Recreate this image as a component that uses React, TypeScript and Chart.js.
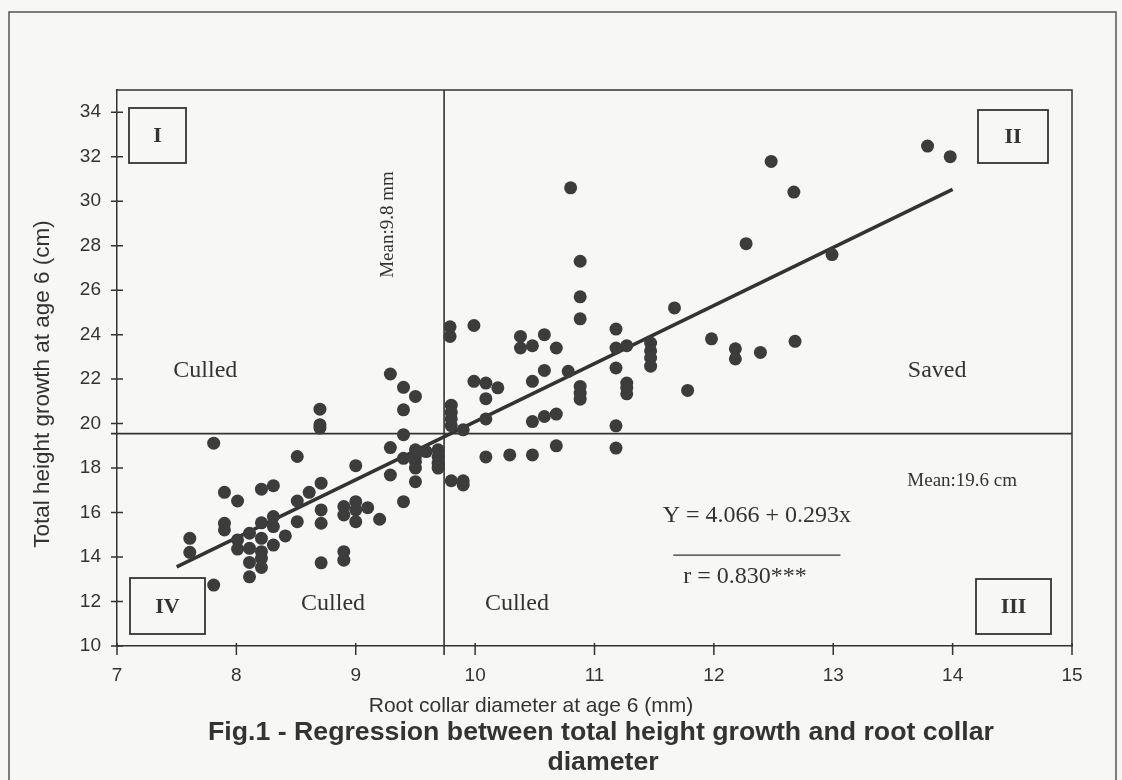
import React, { useEffect, useRef } from "react";
import { Chart, registerables } from "chart.js";

Chart.register(...registerables);

// ---- data ----
// Quadrant IV / lower-left cluster
const diameterA = [8.7, 8.7, 8.7, 7.81, 8.51, 7.9, 8.01, 8.21, 8.31, 8.61, 8.71, 8.51, 8.71, 8.71, 7.9, 7.9, 8.21, 8.31, 8.31, 8.51, 8.41, 8.11, 8.21, 8.01, 8.01, 7.61, 7.61, 8.11, 8.21, 8.31, 8.21, 8.11, 8.21, 8.11, 8.71, 7.81, 8.9, 8.9, 8.9, 8.9];
const heightA = [20.65, 19.95, 19.8, 19.12, 18.52, 16.91, 16.52, 17.05, 17.21, 16.91, 17.32, 16.52, 16.12, 15.52, 15.52, 15.22, 15.54, 15.82, 15.37, 15.59, 14.95, 15.07, 14.84, 14.77, 14.36, 14.84, 14.21, 14.39, 14.24, 14.54, 13.94, 13.76, 13.53, 13.11, 13.74, 12.74, 14.24, 13.86, 16.27, 15.89];
// Cluster just left of the diameter mean
const diameterB = [9.29, 9.4, 9.5, 9.4, 9.4, 9.29, 9.4, 9.5, 9.5, 9.5, 9.5, 9.59, 9.69, 9.69, 9.69, 9.69, 9.5, 9.29, 9.0, 9.4, 9.0, 9.0, 9.0, 9.1, 9.2];
const heightB = [22.23, 21.63, 21.22, 20.62, 19.5, 18.92, 18.44, 18.82, 18.52, 18.29, 18.0, 18.74, 18.82, 18.52, 18.22, 18.0, 17.39, 17.69, 18.11, 16.49, 16.49, 16.12, 15.59, 16.22, 15.7];
// Cluster just right of the diameter mean
const diameterC = [9.8, 9.8, 9.8, 9.8, 9.9, 9.8, 9.9, 9.9, 9.99, 10.09, 10.19, 10.09, 10.09, 10.09, 10.29, 9.79, 9.79, 9.99, 10.38, 10.38, 10.48, 10.58, 10.68, 10.58, 10.48, 10.78, 10.48, 10.58, 10.68, 10.68, 10.48, 10.8];
const heightC = [20.83, 20.51, 20.21, 19.91, 19.72, 17.43, 17.43, 17.24, 21.9, 21.82, 21.61, 21.12, 20.21, 18.5, 18.59, 24.35, 23.92, 24.41, 23.92, 23.4, 23.5, 24.0, 23.4, 22.39, 21.9, 22.35, 20.09, 20.32, 20.43, 19.0, 18.59, 30.6];
// Upper-right cluster (quadrant II)
const diameterD = [10.88, 10.88, 10.88, 10.88, 10.88, 10.88, 11.18, 11.18, 11.27, 11.18, 11.27, 11.27, 11.27, 11.47, 11.47, 11.47, 11.47, 11.18, 11.18, 12.48, 13.79, 13.98, 12.67, 12.27, 12.99, 11.67, 11.98, 12.18, 12.18, 12.39, 12.68, 11.78];
const heightD = [27.3, 25.7, 24.71, 21.67, 21.37, 21.1, 24.25, 23.4, 23.5, 22.5, 21.82, 21.6, 21.34, 23.62, 23.27, 22.95, 22.58, 19.9, 18.9, 31.79, 32.48, 32.0, 30.41, 28.09, 27.6, 25.2, 23.81, 23.36, 22.91, 23.2, 23.7, 21.49];

// regression line end points
const regressionX = [7.5, 14.0];
const regressionY = [13.56, 30.53];

// means used for the quadrant split lines
const meanDiameter = 9.74;
const meanHeight = 19.55;

// axes
const xTickValues = [7, 8, 9, 10, 11, 12, 13, 14, 15];
const yTickValues = [10, 12, 14, 16, 18, 20, 22, 24, 26, 28, 30, 32, 34];
const xRange = [7, 15];
const yRange = [10, 35];

const xTitle = "Root collar diameter at age 6 (mm)";
const yTitle = "Total height growth at age 6 (cm)";
const captionLines = [
  "Fig.1 - Regression between total height growth and root collar",
  "diameter",
];

const ink = "#333333";
const dotColor = "#3c3c3c";
const paper = "#f7f7f5";
const serif = "'Liberation Serif', 'Times New Roman', serif";
const sans = "'Liberation Sans', Arial, sans-serif";

function zip(xs: number[], ys: number[]) {
  return xs.map((x, i) => ({ x, y: ys[i] }));
}

const decorations = {
  id: "decorations",
  beforeDraw(chart: any) {
    const { ctx, width, height } = chart;
    ctx.save();
    ctx.fillStyle = paper;
    ctx.fillRect(0, 0, width, height);
    // outer frame of the figure
    ctx.strokeStyle = "#555";
    ctx.lineWidth = 1.5;
    ctx.beginPath();
    ctx.moveTo(9, height);
    ctx.lineTo(9, 12);
    ctx.lineTo(1116, 12);
    ctx.lineTo(1116, height);
    ctx.stroke();
    ctx.restore();
  },
  beforeDatasetsDraw(chart: any) {
    const { ctx, chartArea: ca, scales } = chart;
    const xs = scales.x;
    const ys = scales.y;
    ctx.save();
    ctx.strokeStyle = ink;
    ctx.lineWidth = 1.5;
    // plot box top/right
    ctx.beginPath();
    ctx.moveTo(ca.left, ca.top);
    ctx.lineTo(ca.right, ca.top);
    ctx.lineTo(ca.right, ca.bottom);
    ctx.stroke();
    // tick marks crossing axes
    ctx.beginPath();
    ys.ticks.forEach((t: any) => {
      const py = ys.getPixelForValue(t.value);
      ctx.moveTo(ca.left - 6, py);
      ctx.lineTo(ca.left + 6, py);
    });
    xs.ticks.forEach((t: any) => {
      const px = xs.getPixelForValue(t.value);
      ctx.moveTo(px, ca.bottom - 3);
      ctx.lineTo(px, ca.bottom + 9);
    });
    ctx.stroke();
    // mean lines
    ctx.lineWidth = 1.6;
    ctx.beginPath();
    const mx = xs.getPixelForValue(meanDiameter);
    ctx.moveTo(mx, ca.top);
    ctx.lineTo(mx, ca.bottom + 9);
    const my = ys.getPixelForValue(meanHeight);
    ctx.moveTo(ca.left - 6, my);
    ctx.lineTo(ca.right, my);
    ctx.stroke();
    ctx.restore();
  },
  afterDraw(chart: any) {
    const { ctx, chartArea: ca, scales } = chart;
    const xs = scales.x;
    const ys = scales.y;
    const px = (v: number) => xs.getPixelForValue(v);
    const py = (v: number) => ys.getPixelForValue(v);
    ctx.save();
    ctx.fillStyle = ink;
    ctx.textAlign = "center";
    ctx.textBaseline = "middle";

    // axis titles and figure caption
    ctx.font = `21px ${sans}`;
    ctx.fillText(xTitle, 531, ca.bottom + 60);
    ctx.save();
    ctx.translate(43, 384);
    ctx.rotate(-Math.PI / 2);
    ctx.font = `22.5px ${sans}`;
    ctx.fillText(yTitle, 0, 0);
    ctx.restore();
    ctx.font = `bold 26.7px ${sans}`;
    ctx.fillText(captionLines[0], 601, 733);
    ctx.fillText(captionLines[1], 603, 763);

    ctx.font = `24px ${serif}`;
    ctx.fillText("Culled", px(7.74), py(22.4));
    ctx.fillText("Culled", px(8.81), py(11.9));
    ctx.fillText("Culled", px(10.35), py(11.9));
    ctx.fillText("Saved", px(13.87), py(22.4));

    ctx.fillText("Y = 4.066 + 0.293x", px(12.36), py(15.85));
    ctx.fillText("r = 0.830***", px(12.26), py(13.1));
    ctx.lineWidth = 1.3;
    ctx.strokeStyle = ink;
    ctx.beginPath();
    ctx.moveTo(px(11.66), py(14.09));
    ctx.lineTo(px(13.06), py(14.09));
    ctx.stroke();

    ctx.font = `19px ${serif}`;
    ctx.fillText("Mean:19.6 cm", px(14.08), py(17.42));

    ctx.save();
    ctx.translate(px(9.27), py(28.95));
    ctx.rotate(-Math.PI / 2);
    ctx.fillText("Mean:9.8 mm", 0, 0);
    ctx.restore();

    // quadrant boxes
    const boxes = [
      { t: "I", x: ca.left + 12, y: ca.top + 18, w: 57, h: 55 },
      { t: "II", x: ca.right - 94, y: ca.top + 20, w: 70, h: 53 },
      { t: "III", x: ca.right - 96, y: ca.bottom - 67, w: 75, h: 55 },
      { t: "IV", x: ca.left + 13, y: ca.bottom - 68, w: 75, h: 56 },
    ];
    ctx.lineWidth = 1.8;
    ctx.font = `bold 22px ${serif}`;
    boxes.forEach((b) => {
      ctx.fillStyle = paper;
      ctx.fillRect(b.x, b.y, b.w, b.h);
      ctx.strokeRect(b.x, b.y, b.w, b.h);
      ctx.fillStyle = ink;
      ctx.fillText(b.t, b.x + b.w / 2, b.y + b.h / 2 + 1);
    });
    ctx.restore();
  },
};

export default function App() {
  const ref = useRef<HTMLCanvasElement | null>(null);

  useEffect(() => {
    if (!ref.current) return;
    const scatterPoints = [
      ...zip(diameterA, heightA),
      ...zip(diameterB, heightB),
      ...zip(diameterC, heightC),
      ...zip(diameterD, heightD),
    ];
    const chart = new Chart(ref.current, {
      type: "scatter",
      data: {
        datasets: [
          {
            label: "Trees",
            data: scatterPoints,
            backgroundColor: dotColor,
            borderColor: dotColor,
            pointRadius: 6.5,
            pointBorderWidth: 0,
          },
          {
            type: "line",
            label: "Regression",
            data: zip(regressionX, regressionY),
            borderColor: ink,
            borderWidth: 3.5,
            pointRadius: 0,
            fill: false,
          } as any,
        ],
      },
      options: {
        responsive: false,
        animation: false,
        devicePixelRatio: 1,
        layout: { padding: { left: 0, right: 50, top: 90, bottom: 62 } },
        plugins: {
          legend: { display: false },
          tooltip: { enabled: false },
          title: { display: false },
        },
        scales: {
          x: {
            type: "linear",
            min: xRange[0],
            max: xRange[1],
            afterBuildTicks: (s: any) => {
              s.ticks = xTickValues.map((v) => ({ value: v }));
            },
            afterFit: (s: any) => {
              s.height = 72;
            },
            grid: { display: false, drawTicks: false, tickLength: 0 },
            border: { display: true, color: ink, width: 1.5 },
            ticks: { color: ink, font: { family: sans, size: 19 }, padding: 18, maxRotation: 0 },
            title: { display: false, text: xTitle },
          },
          y: {
            type: "linear",
            min: yRange[0],
            max: yRange[1],
            afterBuildTicks: (s: any) => {
              s.ticks = yTickValues.map((v) => ({ value: v }));
            },
            afterFit: (s: any) => {
              s.width = 117;
            },
            grid: { display: false, drawTicks: false, tickLength: 0 },
            border: { display: true, color: ink, width: 1.5 },
            ticks: { color: ink, font: { family: sans, size: 19 }, padding: 16 },
            title: { display: false, text: yTitle },
          },
        },
      },
      plugins: [decorations],
    });
    return () => chart.destroy();
  }, []);

  return (
    <div style={{ position: "fixed", left: 0, top: 0, width: 1122, height: 780 }}>
      <canvas ref={ref} width={1122} height={780} style={{ display: "block" }} />
    </div>
  );
}
